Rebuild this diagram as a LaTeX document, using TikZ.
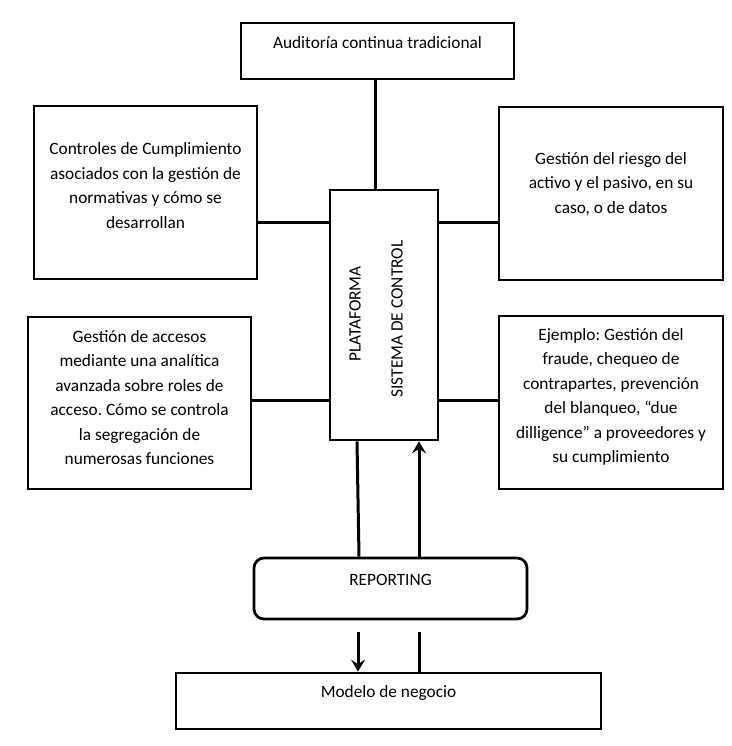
\documentclass[tikz,border=0pt]{standalone}
\usepackage{fontspec}
\setmainfont{Carlito}
\usetikzlibrary{arrows.meta,calc}
\frenchspacing
\begin{document}
\begin{tikzpicture}[x=1pt,y=-1pt,
  box/.style={draw=black,line width=2.7pt,inner sep=0pt,fill=white},
  txt/.style={align=center,inner sep=0pt,font=\fontsize{17.3}{24.5}\selectfont\frenchspacing},
  conn/.style={line width=3pt},
  arr/.style={line width=3pt,-{Stealth[length=12pt,width=14pt,inset=4.5pt]}}]
\useasboundingbox (0,0) rectangle (731,746);
% boxes
\node[box,minimum width=273pt,minimum height=56pt] (aud) at (377.5,51) {};
\node[box,minimum width=223pt,minimum height=173pt] (cu) at (145.5,192.5) {};
\node[box,minimum width=224pt,minimum height=173pt] (ri) at (611,193.5) {};
\node[box,minimum width=223pt,minimum height=172pt] (acc) at (139.5,403) {};
\node[box,minimum width=224pt,minimum height=173pt] (fr) at (611,402.5) {};
\node[box,minimum width=108pt,minimum height=250pt] (pl) at (384,315) {};
\node[box,rounded corners=10pt,minimum width=273pt,minimum height=61pt] (rep) at (390.5,588.5) {};
\node[box,minimum width=425pt,minimum height=56pt] (mod) at (388.5,701) {};
% texts
\node[txt] (audt) at (377.5,43) {Auditoría continua tradicional};
\node[txt] (cut) at (145.5,185.5) {Controles de Cumplimiento\\asociados con la gestión de\\normativas y cómo se\\desarrollan};
\node[txt] (rit) at (611,184) {Gestión del riesgo del\\activo y el pasivo, en su\\caso, o de datos};
\node[txt] (acct) at (139.5,397.5) {Gestión de accesos\\mediante una analítica\\avanzada sobre roles de\\acceso. Cómo se controla\\la segregación de\\numerosas funciones};
\node[txt] (frt) at (611,397) {Ejemplo: Gestión del\\fraude, chequeo de\\contrapartes, prevención\\del blanqueo, “due\\dilligence” a proveedores y\\su cumplimiento};
\node[txt,rotate=90] (plt1) at (355,314) {PLATAFORMA};
\node[txt,rotate=90] (plt2) at (397,319) {SISTEMA DE CONTROL};
\node[txt] (rept) at (390.5,580) {REPORTING};
\node[txt] (modt) at (388.5,693) {Modelo de negocio};
% helper coordinates
\coordinate (yU) at (0,222);
\coordinate (yL) at (0,400);
\coordinate (xA) at (375,0);
\coordinate (xB) at (358,0);
\coordinate (xC) at (419,0);
\coordinate (d1) at (358,632);
\coordinate (d2) at (419,632);
% connectors
\draw[conn] (xA |- aud.south) -- (xA |- pl.north);
\draw[conn] (cu.east |- yU) -- (pl.west |- yU);
\draw[conn] (pl.east |- yU) -- (ri.west |- yU);
\draw[conn] (acc.east |- yL) -- (pl.west |- yL);
\draw[conn] (pl.east |- yL) -- (fr.west |- yL);
\draw[conn] ([xshift=-1pt]xB |- pl.south) -- ([xshift=1pt]xB |- rep.north);
\draw[arr] (xC |- rep.north) -- (xC |- pl.south);
\draw[arr] (d1) -- (d1 |- mod.north);
\draw[conn] (d2) -- (d2 |- mod.north);
\end{tikzpicture}
\end{document}
